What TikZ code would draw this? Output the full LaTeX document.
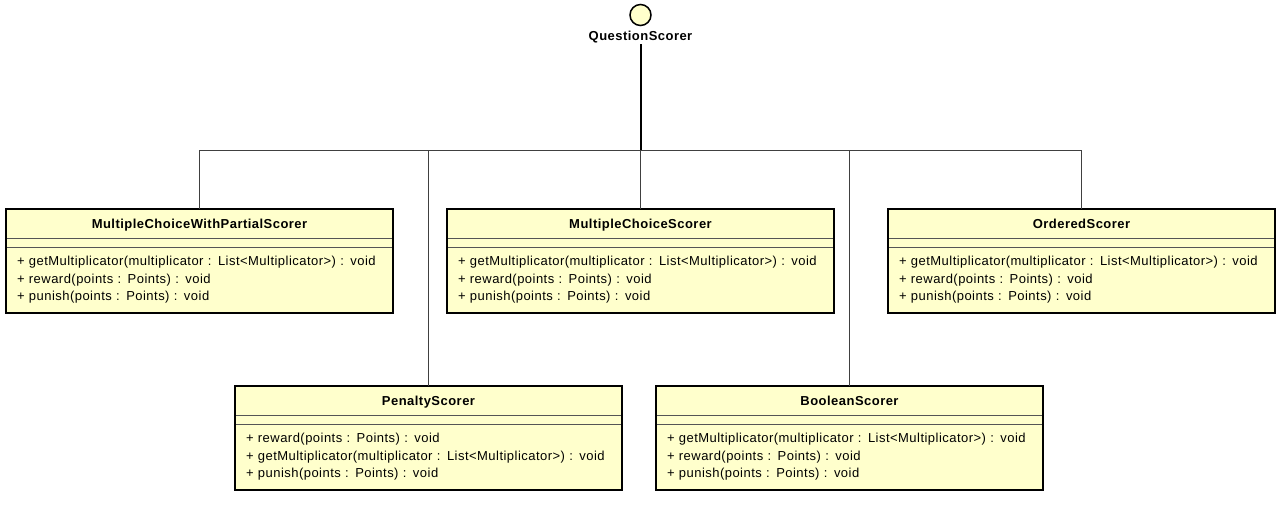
\documentclass[tikz,border=0pt]{standalone}
\usepackage{fontspec}
\setmainfont{Liberation Sans}[LetterSpace=3.6,WordSpace=0.75]
\usepackage{xcolor}
\usepackage{tikz}
\usetikzlibrary{positioning}
\definecolor{classfill}{HTML}{FFFFCC}
\definecolor{sepgray}{HTML}{555555}
\definecolor{linkgray}{HTML}{404040}
\tikzset{
  every picture/.style = {
    x = 1pt,
    y = -1pt,
  }
  , % title compartment of a class
  class-head/.style = {
    rectangle,
    draw = sepgray,
    line width = 1pt,
    fill = classfill,
    font = \fontsize{13}{17.5}\selectfont\bfseries,
    minimum width = 387pt,
    minimum height = 29pt,
    text height = 11pt,
    text depth = 2pt,
    inner sep = 0pt,
    outer sep = 0pt
  }
  , % empty attribute compartment
  class-attr/.style = {
    class-head,
    text height = ,
    text depth = ,
    minimum height = 9pt
  }
  , % operation compartment
  class-ops/.style = {
    class-head,
    font = \fontsize{13}{17.5}\selectfont,
    minimum height = 66pt,
    text height = ,
    text depth = ,
    text width = 365pt,
    inner xsep = 11pt,
    align = left
  }
  ,
  class-frame/.style = {
    draw = black,
    line width = 2pt
  }
  , % lollipop of the interface
  interface/.style = {
    circle,
    draw = black,
    line width = 1.5pt,
    fill = classfill,
    minimum size = 21pt,
    inner sep = 0pt
  }
  ,
  label-interface/.style = {
    font = \fontsize{13}{15}\selectfont\bfseries,
    inner sep = 1pt
  }
  ,
  realize/.style = {
    draw = linkgray,
    line width = 1pt
  }
  ,
  realize-stem/.style = {
    draw = black,
    line width = 2pt
  }
}
\begin{document}
\begin{tikzpicture}
  \useasboundingbox (0,0) rectangle (1280,511);
  \node[interface] at (640.5,15) (qs) {};
  \node[label-interface] at (640.5,37) (qs-name) {QuestionScorer};
  \coordinate (bus) at (640.5,150);

  \node[class-head, anchor=north west] at (6,209) (mcwps) {MultipleChoiceWithPartialScorer};
  \node[class-attr, below=0pt of mcwps] (mcwps-attr) {};
  \node[class-ops, below=0pt of mcwps-attr] (mcwps-ops) {+ getMultiplicator(multiplicator : List<Multiplicator>) : void\\+ reward(points : Points) : void\\+ punish(points : Points) : void};
  \draw[class-frame] (mcwps.north west) rectangle (mcwps-ops.south east);

  \node[class-head, anchor=north west] at (447,209) (mcs) {MultipleChoiceScorer};
  \node[class-attr, below=0pt of mcs] (mcs-attr) {};
  \node[class-ops, below=0pt of mcs-attr] (mcs-ops) {+ getMultiplicator(multiplicator : List<Multiplicator>) : void\\+ reward(points : Points) : void\\+ punish(points : Points) : void};
  \draw[class-frame] (mcs.north west) rectangle (mcs-ops.south east);

  \node[class-head, anchor=north west] at (888,209) (os) {OrderedScorer};
  \node[class-attr, below=0pt of os] (os-attr) {};
  \node[class-ops, below=0pt of os-attr] (os-ops) {+ getMultiplicator(multiplicator : List<Multiplicator>) : void\\+ reward(points : Points) : void\\+ punish(points : Points) : void};
  \draw[class-frame] (os.north west) rectangle (os-ops.south east);

  \node[class-head, anchor=north west] at (235,386) (ps) {PenaltyScorer};
  \node[class-attr, below=0pt of ps] (ps-attr) {};
  \node[class-ops, below=0pt of ps-attr] (ps-ops) {+ reward(points : Points) : void\\+ getMultiplicator(multiplicator : List<Multiplicator>) : void\\+ punish(points : Points) : void};
  \draw[class-frame] (ps.north west) rectangle (ps-ops.south east);

  \node[class-head, anchor=north west] at (656,386) (bs) {BooleanScorer};
  \node[class-attr, below=0pt of bs] (bs-attr) {};
  \node[class-ops, below=0pt of bs-attr] (bs-ops) {+ getMultiplicator(multiplicator : List<Multiplicator>) : void\\+ reward(points : Points) : void\\+ punish(points : Points) : void};
  \draw[class-frame] (bs.north west) rectangle (bs-ops.south east);

  % realizations
  \draw[realize] (mcwps) |- (bus);
  \draw[realize] (ps) |- (bus);
  \draw[realize] (mcs) -- (bus);
  \draw[realize] (bs) |- (bus);
  \draw[realize] (os) |- (bus);
  \draw[realize-stem] (qs-name) -- (bus);
\end{tikzpicture}
\end{document}
